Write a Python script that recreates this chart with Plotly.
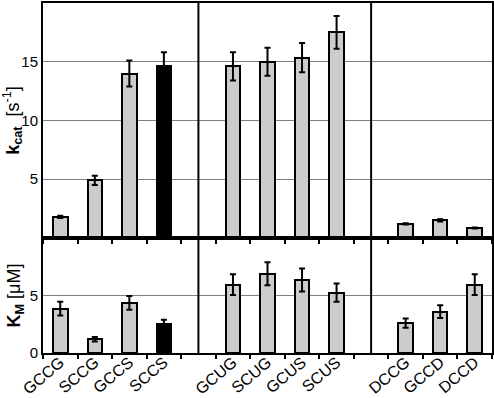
import plotly.graph_objects as go
from plotly.subplots import make_subplots

categories = ["GCCG", "SCCG", "GCCS", "SCCS", " ", "GCUG", "SCUG", "GCUS", "SCUS", "  ", "DCCG", "GCCD", "DCCD"]
kcat = [1.8, 4.9, 14.0, 14.6, None, 14.6, 15.0, 15.35, 17.5, None, 1.2, 1.5, 0.85]
kcat_err = [0.1, 0.4, 1.1, 1.2, None, 1.2, 1.2, 1.25, 1.4, None, 0.05, 0.1, 0.05]
km = [3.85, 1.2, 4.35, 2.5, None, 5.95, 6.9, 6.35, 5.25, None, 2.6, 3.6, 5.95]
km_err = [0.6, 0.2, 0.6, 0.4, None, 0.9, 1.0, 1.0, 0.8, None, 0.4, 0.55, 0.9]
colors = ["#cccccc", "#cccccc", "#cccccc", "#000000", "#cccccc", "#cccccc", "#cccccc", "#cccccc",
          "#cccccc", "#cccccc", "#cccccc", "#cccccc", "#cccccc"]
separators = [" ", "  "]

FONT = "Arial, Liberation Sans, sans-serif"

fig = make_subplots(rows=2, cols=1, shared_xaxes=False, vertical_spacing=0,
                    row_heights=[0.6714, 0.3286])

fig.add_trace(go.Bar(x=categories, y=kcat, width=0.42,
                     marker=dict(color=colors, line=dict(color="black", width=2)),
                     error_y=dict(type="data", array=kcat_err, color="black", thickness=2, width=3),
                     showlegend=False), row=1, col=1)
fig.add_trace(go.Bar(x=categories, y=km, width=0.42,
                     marker=dict(color=colors, line=dict(color="black", width=2)),
                     error_y=dict(type="data", array=km_err, color="black", thickness=2, width=3),
                     showlegend=False), row=2, col=1)

xcommon = dict(type="category", categoryorder="array", categoryarray=categories,
               range=[-0.5, len(categories) - 0.5], showline=True, linecolor="black",
               linewidth=2, mirror=True, ticks="outside", tickson="boundaries",
               ticklen=4, tickwidth=1.5, tickcolor="black", showgrid=False, automargin=False)
fig.update_xaxes(**xcommon)
fig.update_xaxes(showticklabels=False, row=1, col=1)
fig.update_xaxes(tickangle=-40, tickfont=dict(family=FONT, size=16, color="black"),
                 ticklabelstandoff=-8, row=2, col=1)

ycommon = dict(showline=True, linecolor="black", linewidth=2, mirror=True, ticks="",
               showgrid=True, gridcolor="#808080", gridwidth=1, zeroline=False, automargin=False,
               tickfont=dict(family=FONT, size=15, color="black"))
fig.update_yaxes(**ycommon)
fig.update_yaxes(range=[0, 20], tickvals=[5, 10, 15],
                 title=dict(text="<b>k</b><sub><b>cat</b></sub>  [s<sup>-1</sup>]",
                            font=dict(family=FONT, size=18, color="black"), standoff=4),
                 row=1, col=1)
fig.update_yaxes(range=[0, 10], tickvals=[0, 5],
                 title=dict(text="<b>K</b><sub><b>M</b></sub> [μM]",
                            font=dict(family=FONT, size=18, color="black"), standoff=4),
                 row=2, col=1)

for s in separators:
    fig.add_shape(type="line", xref="x", yref="paper", x0=s, x1=s, y0=0, y1=1,
                  line=dict(color="black", width=2))

fig.update_layout(width=494, height=398, margin=dict(l=43, r=2, t=3, b=45, autoexpand=False),
                  paper_bgcolor="white", plot_bgcolor="white", bargap=0,
                  font=dict(family=FONT, color="black"))

fig.write_html("out.html", config={"displayModeBar": False},
               post_script="document.body.style.margin='0px';document.body.style.overflow='hidden';")
